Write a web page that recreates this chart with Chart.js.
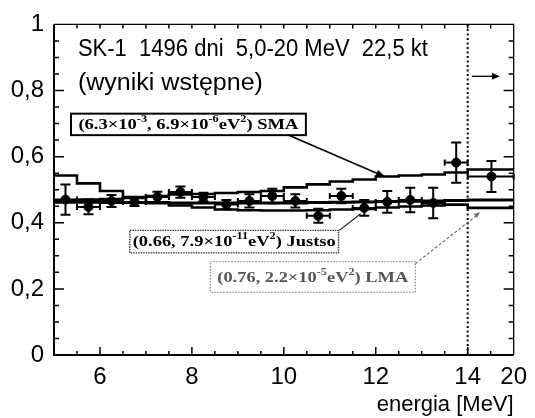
<!DOCTYPE html>
<html>
<head>
<meta charset="utf-8">
<script src="https://cdn.jsdelivr.net/npm/chart.js@4"></script>
<style>
  html, body { margin: 0; padding: 0; background: #fff; }
  #wrap { width: 535px; height: 418px; }
</style>
</head>
<body>
<div id="wrap"><canvas id="c" width="535" height="418"></canvas></div>
<script>
// Energy bins [MeV]: half-MeV bins from 5 to 14, then one wide bin 14-20
const binEdges = [5, 5.5, 6, 6.5, 7, 7.5, 8, 8.5, 9, 9.5, 10, 10.5, 11, 11.5, 12, 12.5, 13, 13.5, 14, 20];

// Expected spectra (Data / SSM) for the three oscillation solutions, one value per bin
const smaRate    = [0.468, 0.470, 0.472, 0.475, 0.481, 0.486, 0.487, 0.490, 0.493, 0.496, 0.507, 0.516, 0.525, 0.531, 0.540, 0.543, 0.546, 0.552, 0.561];
const lmaRate    = [0.462, 0.462, 0.461, 0.461, 0.460, 0.460, 0.460, 0.460, 0.460, 0.460, 0.460, 0.461, 0.462, 0.463, 0.464, 0.465, 0.466, 0.467, 0.469];
const justsoRate = [0.543, 0.519, 0.496, 0.478, 0.462, 0.452, 0.446, 0.440, 0.438, 0.437, 0.437, 0.438, 0.440, 0.442, 0.446, 0.449, 0.452, 0.455, 0.445];

// Measured points: energy, ratio and statistical error
const dataEnergy = [5.25, 5.75, 6.25, 6.75, 7.25, 7.75, 8.25, 8.75, 9.25, 9.75, 10.25, 10.75, 11.25, 11.75, 12.25, 12.75, 13.25, 13.75, 17.1];
const dataRate   = [0.470, 0.448, 0.466, 0.463, 0.478, 0.493, 0.478, 0.455, 0.466, 0.481, 0.466, 0.421, 0.481, 0.445, 0.463, 0.469, 0.460, 0.582, 0.540];
const dataErr    = [0.046, 0.022, 0.018, 0.012, 0.016, 0.017, 0.013, 0.014, 0.020, 0.022, 0.020, 0.021, 0.022, 0.024, 0.033, 0.037, 0.046, 0.061, 0.047];

// Axis ticks
const yTickValues = [0, 0.2, 0.4, 0.6, 0.8, 1];
const yTickLabels = ['0', '0,2', '0,4', '0,6', '0,8', '1'];
const xTickEnergies = [6, 8, 10, 12, 14, 20];
const xTickLabels = ['6', '8', '10', '12', '14', '20'];

// Texts
const titleLine1 = 'SK-1  1496 dni  5,0-20 MeV  22,5 kt';
const titleLine2 = '(wyniki wstępne)';
const xTitle = 'energia [MeV]';
const smaLabel    = [['(6.3×10', 0], ['-3', 1], [', 6.9×10', 0], ['-6', 1], ['eV', 0], ['2', 1], [') SMA', 0]];
const justsoLabel = [['(0.66, 7.9×10', 0], ['-11', 1], ['eV', 0], ['2', 1], [') Justso', 0]];
const lmaLabel    = [['(0.76, 2.2×10', 0], ['-5', 1], ['eV', 0], ['2', 1], [') LMA', 0]];

// The last bin (14-20 MeV) is squeezed into one axis unit
function axisPos(e) { return e <= 14 ? e : 14 + (e - 14) / 6; }

function stepped(rates) {
  const pts = rates.map((v, i) => ({ x: axisPos(binEdges[i]), y: v }));
  pts.push({ x: axisPos(binEdges[binEdges.length - 1]), y: rates[rates.length - 1] });
  return pts;
}

const SANS = '"Liberation Sans", Arial, Helvetica, sans-serif';
const SERIF = '"Liberation Serif", "Times New Roman", serif';

function drawRich(ctx, parts, cx, cy, size, color, targetWidth) {
  const base = 'bold ' + size + 'px ' + SERIF;
  const sup = 'bold ' + Math.round(size * 0.68) + 'px ' + SERIF;
  let w = 0;
  parts.forEach(([t, s]) => { ctx.font = s ? sup : base; w += ctx.measureText(t).width; });
  const sx = targetWidth ? targetWidth / w : 1;
  ctx.save();
  ctx.translate(cx - (w * sx) / 2, cy);
  ctx.scale(sx, 1);
  ctx.fillStyle = color;
  ctx.textBaseline = 'middle';
  ctx.textAlign = 'left';
  let x = 0;
  parts.forEach(([t, s]) => {
    ctx.font = s ? sup : base;
    ctx.fillText(t, x, s ? -size * 0.38 : 0);
    x += ctx.measureText(t).width;
  });
  ctx.restore();
}

function drawLine(ctx, text, x, y, size, targetWidth) {
  ctx.font = size + 'px ' + SANS;
  const w = ctx.measureText(text).width;
  ctx.save();
  ctx.translate(x, y);
  ctx.scale(targetWidth / w, 1);
  ctx.textAlign = 'left';
  ctx.textBaseline = 'middle';
  ctx.fillStyle = '#000';
  ctx.fillText(text, 0, 0);
  ctx.restore();
}

function arrowHead(ctx, x0, y0, x1, y1, len, wid) {
  const a = Math.atan2(y1 - y0, x1 - x0);
  ctx.beginPath();
  ctx.moveTo(x1, y1);
  ctx.lineTo(x1 - len * Math.cos(a) + wid * Math.sin(a), y1 - len * Math.sin(a) - wid * Math.cos(a));
  ctx.lineTo(x1 - len * Math.cos(a) - wid * Math.sin(a), y1 - len * Math.sin(a) + wid * Math.cos(a));
  ctx.closePath();
  ctx.fill();
}

const decorPlugin = {
  id: 'decor',
  afterDatasetsDraw(chart) {
    const ctx = chart.ctx;
    const xs = chart.scales.x, ys = chart.scales.y;
    const px = v => xs.getPixelForValue(v), py = v => ys.getPixelForValue(v);
    ctx.save();
    ctx.strokeStyle = '#000';
    ctx.lineWidth = 2;
    // error bars
    dataEnergy.forEach((e, i) => {
      const x = px(axisPos(e));
      const y = py(dataRate[i]);
      const yt = py(dataRate[i] + dataErr[i]);
      const yb = py(dataRate[i] - dataErr[i]);
      const xl = px(axisPos(binEdges[i]));
      const xr = px(axisPos(binEdges[i + 1]));
      ctx.beginPath();
      ctx.moveTo(x, yt); ctx.lineTo(x, yb);
      ctx.moveTo(x - 5, yt); ctx.lineTo(x + 5, yt);
      ctx.moveTo(x - 5, yb); ctx.lineTo(x + 5, yb);
      ctx.moveTo(xl, y); ctx.lineTo(xr, y);
      ctx.moveTo(xl, y - 3); ctx.lineTo(xl, y + 3);
      ctx.moveTo(xr, y - 3); ctx.lineTo(xr, y + 3);
      ctx.stroke();
    });
    ctx.restore();
  },
  afterDraw(chart) {
    const ctx = chart.ctx;
    const xs = chart.scales.x, ys = chart.scales.y;
    const a = chart.chartArea;
    const px = v => xs.getPixelForValue(v), py = v => ys.getPixelForValue(v);
    ctx.save();
    ctx.strokeStyle = '#000';
    ctx.fillStyle = '#000';

    // frame
    ctx.lineWidth = 2;
    ctx.beginPath();
    ctx.moveTo(a.left, a.top); ctx.lineTo(a.left, a.bottom); ctx.lineTo(a.right, a.bottom);
    ctx.stroke();
    ctx.lineWidth = 1.3;
    ctx.beginPath();
    ctx.moveTo(a.left, a.top); ctx.lineTo(a.right, a.top); ctx.lineTo(a.right, a.bottom);
    ctx.stroke();

    // inward tick marks
    ctx.lineWidth = 1.5;
    ctx.beginPath();
    for (let k = 1; k < 20; k++) {
      const v = k * 0.05;
      const major = k % 4 === 0;
      const y = py(v);
      const len = major ? 10 : 5;
      ctx.moveTo(a.left, y); ctx.lineTo(a.left + len, y);
      ctx.moveTo(a.right, y); ctx.lineTo(a.right - len, y);
    }
    for (let k = 1; k < 20; k++) {
      const v = 5 + k * 0.5;
      const x = px(v);
      const major = (v <= 14 && v % 2 === 0);
      const len = major ? 8 : 4;
      ctx.moveTo(x, a.bottom); ctx.lineTo(x, a.bottom - len);
      ctx.moveTo(x, a.top); ctx.lineTo(x, a.top + 4);
    }
    ctx.stroke();

    // 14 MeV divider
    ctx.lineWidth = 2;
    ctx.setLineDash([2, 2.5]);
    ctx.beginPath();
    ctx.moveTo(px(14), a.top); ctx.lineTo(px(14), a.bottom);
    ctx.stroke();
    ctx.setLineDash([]);

    // arrow: last bin extends to 20 MeV
    ctx.lineWidth = 1.3;
    const ay = py(0.843);
    ctx.beginPath();
    ctx.moveTo(px(14.09), ay); ctx.lineTo(px(14.66), ay);
    ctx.stroke();
    arrowHead(ctx, px(14.09), ay, px(14.7), ay, 8, 3.5);

    // title
    drawLine(ctx, titleLine1, px(5.52), py(0.925), 23, 350);
    drawLine(ctx, titleLine2, px(5.52), py(0.822), 23, 185);

    // SMA label box + arrow
    ctx.lineWidth = 1.6;
    ctx.beginPath();
    ctx.moveTo(px(10.11), py(0.665));
    ctx.lineTo(px(12.1), py(0.545));
    ctx.stroke();
    arrowHead(ctx, px(10.11), py(0.665), px(12.22), py(0.538), 10, 3.5);
    let x0 = px(5.37), x1 = px(10.48), y0 = py(0.73), y1 = py(0.665);
    ctx.fillStyle = '#fff';
    ctx.fillRect(x0, y0, x1 - x0, y1 - y0);
    ctx.lineWidth = 2;
    ctx.strokeRect(x0, y0, x1 - x0, y1 - y0);
    drawRich(ctx, smaLabel, (x0 + x1) / 2, (y0 + y1) / 2 + 1, 15, '#000', 220);

    // Justso label box + connector
    ctx.strokeStyle = '#222';
    ctx.lineWidth = 1.2;
    ctx.beginPath();
    ctx.moveTo(px(11.21), py(0.377)); ctx.lineTo(px(11.67), py(0.427));
    ctx.stroke();
    x0 = px(6.65); x1 = px(11.19); y0 = py(0.377); y1 = py(0.309);
    ctx.fillStyle = '#fff';
    ctx.fillRect(x0, y0, x1 - x0, y1 - y0);
    ctx.strokeStyle = '#333';
    ctx.lineWidth = 1.4;
    ctx.setLineDash([1.5, 1]);
    ctx.strokeRect(x0, y0, x1 - x0, y1 - y0);
    ctx.setLineDash([]);
    drawRich(ctx, justsoLabel, (x0 + x1) / 2, (y0 + y1) / 2 + 1, 15, '#000', 203);

    // LMA label box + dashed pointer
    ctx.strokeStyle = '#666';
    ctx.fillStyle = '#666';
    ctx.lineWidth = 1.1;
    ctx.setLineDash([3, 2]);
    ctx.beginPath();
    ctx.moveTo(px(12.86), py(0.276)); ctx.lineTo(px(14.22), py(0.425));
    ctx.stroke();
    ctx.setLineDash([]);
    arrowHead(ctx, px(12.86), py(0.276), px(14.27), py(0.432), 6, 2.5);
    x0 = px(8.40); x1 = px(12.86); y0 = py(0.282); y1 = py(0.19);
    ctx.fillStyle = '#fff';
    ctx.fillRect(x0, y0, x1 - x0, y1 - y0);
    ctx.strokeStyle = '#777';
    ctx.lineWidth = 1.1;
    ctx.setLineDash([1.5, 1.5]);
    ctx.strokeRect(x0, y0, x1 - x0, y1 - y0);
    ctx.setLineDash([]);
    drawRich(ctx, lmaLabel, (x0 + x1) / 2, (y0 + y1) / 2 + 1, 15, '#555', 191);

    ctx.restore();
  }
};

new Chart(document.getElementById('c'), {
  type: 'scatter',
  data: {
    datasets: [
      {
        label: 'SMA', data: stepped(smaRate), showLine: true, stepped: 'before',
        borderColor: '#000', borderWidth: 2.6, pointRadius: 0, fill: false
      },
      {
        label: 'LMA', data: stepped(lmaRate), showLine: true, stepped: 'before',
        borderColor: '#000', borderWidth: 3, pointRadius: 0, fill: false
      },
      {
        label: 'Justso', data: stepped(justsoRate), showLine: true, stepped: 'before',
        borderColor: '#000', borderWidth: 2.6, pointRadius: 0, fill: false
      },
      {
        label: 'SK-1', data: dataEnergy.map((e, i) => ({ x: axisPos(e), y: dataRate[i] })),
        showLine: false, pointStyle: 'circle', pointRadius: 4.5,
        pointBackgroundColor: '#000', pointBorderColor: '#000', pointBorderWidth: 1
      }
    ]
  },
  options: {
    responsive: false,
    devicePixelRatio: 1,
    animation: false,
    events: [],
    layout: { padding: { top: 18, right: 19, left: 0, bottom: 0 } },
    plugins: { legend: { display: false }, tooltip: { enabled: false }, title: { display: false } },
    scales: {
      x: {
        type: 'linear', min: 5, max: 15,
        grid: { display: false, drawTicks: false },
        border: { display: false },
        afterBuildTicks: s => { s.ticks = xTickEnergies.map(e => ({ value: axisPos(e) })); },
        afterFit: s => { s.height = 63; },
        ticks: {
          autoSkip: false, maxRotation: 0, padding: 8, color: '#000',
          font: { family: SANS, size: 24 },
          callback: (v, i) => xTickLabels[i]
        },
        title: {
          display: true, text: xTitle, align: 'end', color: '#000',
          font: { family: SANS, size: 22 }, padding: 0
        }
      },
      y: {
        type: 'linear', min: 0, max: 1,
        grid: { display: false, drawTicks: false },
        border: { display: false },
        afterBuildTicks: s => { s.ticks = yTickValues.map(v => ({ value: v })); },
        afterFit: s => { s.width = 54; },
        ticks: {
          autoSkip: false, padding: 10, color: '#000',
          font: { family: SANS, size: 24 },
          callback: (v, i) => yTickLabels[i]
        }
      }
    }
  },
  plugins: [decorPlugin]
});
</script>
</body>
</html>
